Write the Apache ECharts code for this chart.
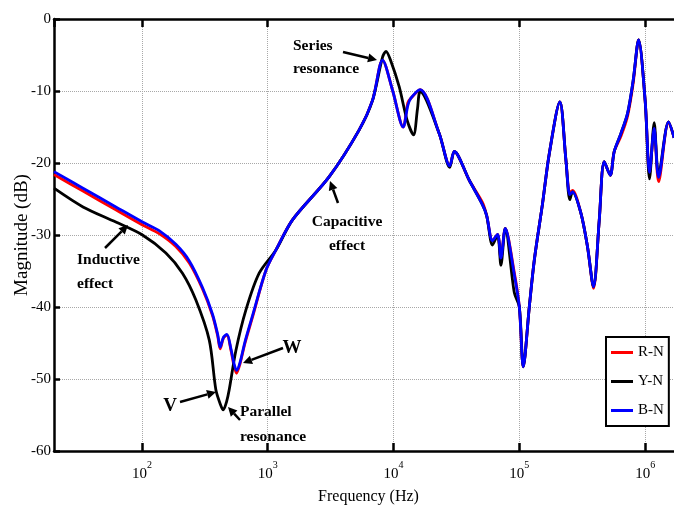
<!DOCTYPE html>
<html>
<head>
<meta charset="utf-8">
<script src="https://cdn.jsdelivr.net/npm/echarts@6/dist/echarts.min.js"></script>
<style>
html,body{margin:0;padding:0;background:#fff;}
#c{width:674px;height:506px;}
</style>
</head>
<body>
<div id="c"></div>
<script>
// ---- data (Hz, dB) ----
const seriesNames = ['R-N', 'Y-N', 'B-N'];
const freqRB = [20, 34, 62, 101, 137, 186, 238, 303, 364, 400, 419, 445, 474, 510, 540, 565, 600, 660, 757, 968, 1160, 1574, 3083, 5335, 6808, 8180, 9820, 11940, 13000, 13740, 16290, 23070, 28000, 30400, 40000, 51000, 55000, 61200, 67100, 71400, 77300, 91200, 100000, 107500, 120000, 131500, 153000, 173000, 210000, 234600, 252000, 265000, 309000, 348000, 389000, 432000, 473000, 528000, 568000, 642000, 725000, 804000, 887000, 1000000, 1084000, 1180000, 1280000, 1535000, 1700000];
const magB = [-21.2, -23.5, -26.1, -28.2, -29.4, -31.3, -33.6, -37.3, -41.0, -43.8, -45.6, -44.2, -43.8, -45.8, -47.9, -48.8, -47.8, -44.8, -41.2, -34.9, -32.1, -27.9, -21.9, -15.4, -11.3, -5.7, -9.9, -15.0, -12.0, -11.0, -9.8, -15.9, -20.4, -18.4, -22.4, -25.8, -27.3, -30.8, -29.9, -33.2, -29.1, -35.5, -40.0, -48.3, -40.0, -33.5, -25.6, -18.7, -11.5, -19.6, -24.4, -24.0, -27.0, -31.6, -37.2, -27.9, -19.8, -21.7, -18.4, -15.9, -13.1, -8.5, -2.9, -11.3, -21.3, -15.2, -22.0, -14.3, -16.5];
const magR = [-21.6, -23.9, -26.5, -28.6, -29.8, -31.6, -33.9, -37.5, -41.2, -44.0, -45.8, -44.3, -43.9, -46.0, -48.2, -49.2, -48.0, -45.0, -41.4, -34.9, -32.1, -27.9, -21.9, -15.4, -11.3, -5.7, -9.9, -15.0, -11.6, -11.0, -9.8, -15.9, -20.4, -18.4, -22.4, -25.5, -27.3, -30.8, -29.9, -33.2, -29.1, -35.2, -40.0, -48.3, -40.0, -33.5, -25.6, -18.7, -11.5, -19.6, -24.2, -23.8, -27.0, -31.6, -37.4, -27.9, -19.8, -21.7, -18.4, -16.3, -13.5, -8.9, -2.9, -11.3, -21.5, -15.2, -22.6, -14.3, -16.5];
const freqY = [20, 34, 62, 101, 155, 210, 268, 343, 387, 420, 443, 470, 494, 559, 671, 855, 1160, 1574, 3083, 5335, 6808, 8180, 8710, 9500, 11090, 12800, 14420, 15500, 16290, 23070, 28000, 30400, 40000, 51000, 55000, 61200, 67100, 71400, 77300, 91200, 100000, 107500, 120000, 131500, 153000, 173000, 210000, 234600, 252000, 265000, 309000, 348000, 389000, 432000, 473000, 528000, 568000, 642000, 725000, 804000, 887000, 1000000, 1084000, 1180000, 1280000, 1535000, 1700000];
const magY = [-23.5, -26.1, -28.2, -30.0, -32.5, -35.3, -39.0, -44.6, -51.5, -53.5, -54.3, -53.2, -51.5, -46.0, -40.4, -35.3, -32.1, -27.9, -21.9, -15.4, -11.3, -5.3, -4.5, -5.8, -9.4, -14.0, -16.1, -12.5, -10.1, -15.9, -20.6, -18.4, -22.4, -25.8, -27.3, -31.4, -30.0, -34.2, -29.1, -38.0, -40.0, -48.3, -40.0, -33.5, -25.6, -18.7, -11.5, -19.6, -25.1, -24.0, -27.0, -31.6, -37.2, -27.9, -19.8, -21.7, -18.4, -15.9, -13.1, -8.5, -2.9, -11.3, -22.2, -14.4, -21.6, -14.3, -16.5];
const yTicks = [0, -10, -20, -30, -40, -50, -60];

const FONT = '"Liberation Serif", "Times New Roman", serif';
const zip = (xs, ys) => xs.map((x, i) => [x, ys[i]]);

const chart = echarts.init(document.getElementById('c'), null, {renderer: 'canvas'});

function arrow(x1, y1, x2, y2) {
  const dx = x2 - x1, dy = y2 - y1, L = Math.hypot(dx, dy);
  const ux = dx / L, uy = dy / L, hl = 9, hw = 4.5;
  const bx = x2 - ux * hl, by = y2 - uy * hl;
  return [
    {type: 'line', shape: {x1: x1, y1: y1, x2: bx, y2: by}, style: {stroke: '#000', lineWidth: 2.5}, z: 100},
    {type: 'polygon', shape: {points: [[x2, y2], [bx - uy * hw, by + ux * hw], [bx + uy * hw, by - ux * hw]]}, style: {fill: '#000'}, z: 100}
  ];
}
function label(text, x, y, size, align, lh) {
  return {type: 'text', z: 100, style: {text: text, x: x, y: y, fill: '#000',
    font: 'bold ' + size + 'px ' + FONT, align: align, textAlign: align,
    verticalAlign: 'middle', textVerticalAlign: 'middle', lineHeight: lh}};
}

const graphics = [].concat(
  [label('Series\nresonance', 293, 57, 15.5, 'left', 23)],
  arrow(343, 52, 377, 60),
  [label('Capacitive\neffect', 347, 234, 15.5, 'center', 24)],
  arrow(338, 203, 330, 181),
  [label('Inductive\neffect', 77, 272, 15.5, 'left', 24)],
  arrow(105, 248, 128, 225),
  [label('W', 292, 348, 19, 'center', 20)],
  arrow(283, 348, 243, 363),
  [label('V', 170, 406, 19, 'center', 20)],
  arrow(180, 402, 216, 392),
  [label('Parallel\nresonance', 240, 424, 15.5, 'left', 25)],
  arrow(240, 420, 228, 407)
);

const axisLineStyle = {color: '#000', width: 2.5};
const option = {
  animation: false,
  backgroundColor: '#fff',
  grid: {left: 54, right: -9, top: 19, bottom: 55, containLabel: false, outerBoundsMode: 'none'},
  legend: {
    orient: 'vertical', left: 606, top: 337,
    data: seriesNames,
    backgroundColor: '#fff', borderColor: '#000', borderWidth: 2, borderRadius: 0,
    padding: [8, 5, 8, 5], itemGap: 14, itemWidth: 22, itemHeight: 3, itemTextGap: 3,
    icon: 'rect',
    textStyle: {fontFamily: FONT, fontSize: 15, color: '#000'}
  },
  xAxis: [{
    type: 'log', logBase: 10, min: 20, max: 2000000,
    name: 'Frequency (Hz)', nameLocation: 'middle', nameGap: 38,
    nameTextStyle: {fontFamily: FONT, fontSize: 16, color: '#000'},
    axisLine: {show: true, onZero: false, lineStyle: axisLineStyle},
    axisTick: {show: true, inside: true, length: 8, lineStyle: {color: '#000', width: 2.5}},
    minorTick: {show: false},
    splitLine: {show: true, lineStyle: {color: '#a8a8a8', type: 'dotted', width: 1}},
    axisLabel: {
      showMinLabel: false, showMaxLabel: false, margin: 9,
      formatter: function (v) { return '{b|10}{s|' + Math.round(Math.log10(v)) + '}'; },
      rich: {
        b: {fontFamily: FONT, fontSize: 15, color: '#000', verticalAlign: 'bottom', lineHeight: 22},
        s: {fontFamily: FONT, fontSize: 10, color: '#000', verticalAlign: 'top', lineHeight: 10}
      }
    }
  }, {
    type: 'log', logBase: 10, min: 20, max: 2000000, position: 'top',
    axisLine: {show: true, onZero: false, lineStyle: axisLineStyle},
    axisTick: {show: true, inside: true, length: 8, lineStyle: {color: '#000', width: 2.5}},
    axisLabel: {show: false}, splitLine: {show: false}
  }],
  yAxis: {
    type: 'value', min: yTicks[yTicks.length - 1], max: yTicks[0], interval: 10,
    name: 'Magnitude (dB)', nameLocation: 'middle', nameGap: 22, nameMoveOverlap: false,
    nameTextStyle: {fontFamily: FONT, fontSize: 19, color: '#000'},
    axisLine: {show: true, onZero: false, lineStyle: axisLineStyle},
    axisTick: {show: true, inside: true, length: 6, lineStyle: {color: '#000', width: 2.5}},
    splitLine: {show: true, lineStyle: {color: '#a8a8a8', type: 'dotted', width: 1}},
    axisLabel: {fontFamily: FONT, fontSize: 15, color: '#000', margin: 3}
  },
  series: [
    {name: 'R-N', type: 'line', data: zip(freqRB, magR), showSymbol: false, symbol: 'none', smooth: 0.3,
     color: '#ff0000', lineStyle: {color: '#ff0000', width: 2.8}, z: 2},
    {name: 'Y-N', type: 'line', data: zip(freqY, magY), showSymbol: false, symbol: 'none', smooth: 0.3,
     color: '#000000', lineStyle: {color: '#000000', width: 2.8}, z: 3},
    {name: 'B-N', type: 'line', data: zip(freqRB, magB), showSymbol: false, symbol: 'none', smooth: 0.3,
     color: '#0000ff', lineStyle: {color: '#0000ff', width: 2.8}, z: 4}
  ],
  graphic: graphics
};
chart.setOption(option);
</script>
</body>
</html>
